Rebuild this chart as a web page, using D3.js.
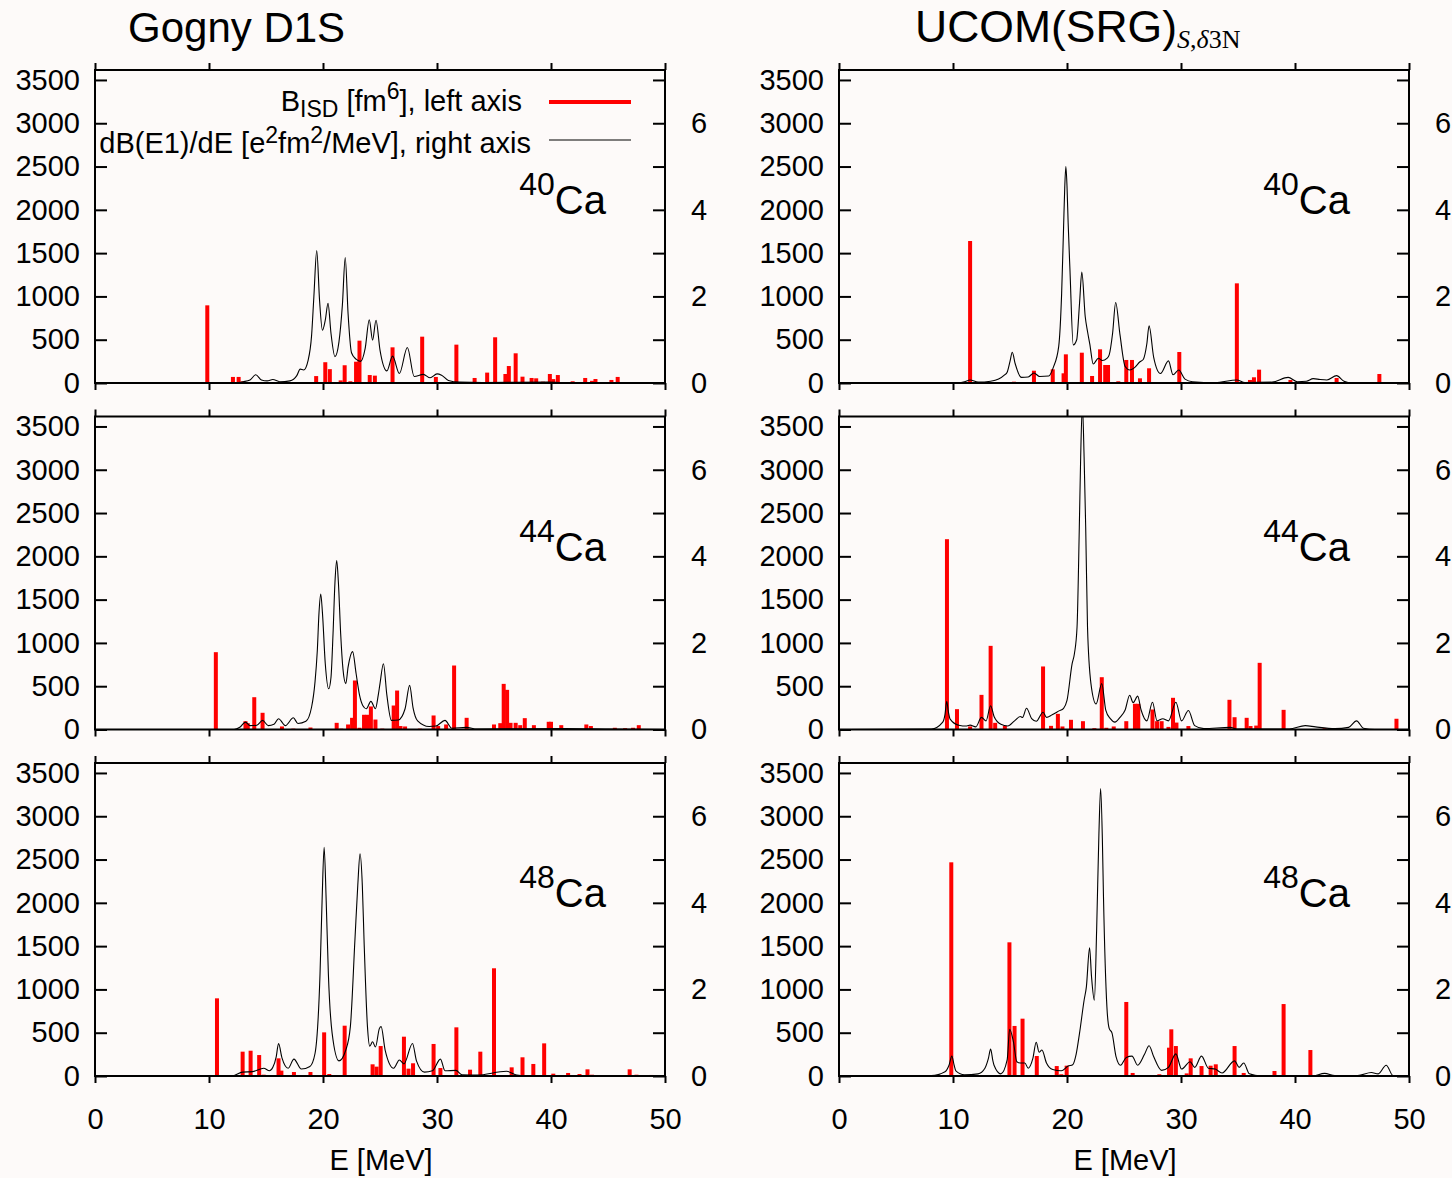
<!DOCTYPE html>
<html>
<head>
<meta charset="utf-8">
<script src="https://cdn.jsdelivr.net/npm/d3@7"></script>
<style>
  body { margin: 0; background: #fdfaf9; }
  svg { display: block; font-family: "Liberation Sans", Arial, sans-serif; }
</style>
</head>
<body>
<div id="chart"></div>
<script>
// ---- data: [E (MeV), B_ISD (fm^6)] bars and [E, dB(E1)/dE] curve points ----
const gognyCa40Bars = [[9.85,897],[12.1,70],[12.6,70],[13.0,20],[14.6,10],[15.0,10],[19.4,80],[20.2,240],[20.6,160],[21.55,30],[21.9,205],[22.4,20],[22.9,246],[23.2,489],[24.1,92],[24.55,85],[25.3,10],[26.1,412],[27.2,10],[28.7,535],[29.9,70],[31.7,443],[33.3,58],[34.4,120],[35.1,528],[36.0,104],[36.3,196],[36.9,343],[37.5,73],[38.3,58],[38.7,54],[39.3,15],[39.9,104],[40.2,45],[40.6,92],[41.9,20],[43.0,58],[43.6,25],[43.9,46],[45.3,35],[45.85,70]];
const gognyCa40Curve = [[0,0],[12,0],[13,0.03],[13.6,0.07],[14.1,0.19],[14.6,0.07],[15.1,0.05],[15.6,0.08],[16.2,0.03],[17.1,0.05],[17.7,0.17],[18.0,0.32],[18.3,0.30],[18.7,0.53],[19.0,1.1],[19.2,2.0],[19.45,3.06],[19.7,1.9],[19.95,1.22],[20.2,1.45],[20.44,1.84],[20.7,1.15],[21.05,0.61],[21.4,0.95],[21.7,1.8],[21.95,2.90],[22.2,1.6],[22.5,0.7],[22.9,0.55],[23.3,0.50],[23.7,0.8],[24.06,1.46],[24.35,0.99],[24.65,1.45],[25.0,0.76],[25.6,0.28],[26.1,0.62],[26.7,0.22],[27.4,0.82],[28.0,0.15],[28.8,0.20],[29.4,0.12],[30.0,0.21],[30.4,0.18],[31.0,0.06],[32,0.02],[34,0.01],[39.7,0.02],[41,0.01],[50,0]];

const ucomCa40Bars = [[11.5,1640],[13.4,10],[15.35,15],[17.1,142],[18.0,10],[18.75,158],[19.7,112],[19.9,331],[20.9,10],[21.3,350],[22.2,81],[22.9,389],[23.35,208],[23.6,208],[24.5,20],[25.2,266],[25.7,266],[26.4,54],[27.2,170],[28.7,10],[29.0,10],[29.85,358],[34.9,1151],[36.05,35],[36.4,66],[36.85,154],[39.6,35],[43.65,58],[47.4,104]];
const ucomCa40Curve = [[0,0],[10.5,0.01],[11.0,0.03],[11.5,0.07],[12.2,0.02],[13.3,0.04],[14.0,0.09],[14.5,0.18],[14.75,0.25],[15.0,0.5],[15.2,0.71],[15.45,0.45],[16.0,0.13],[16.6,0.14],[17.1,0.23],[17.6,0.15],[18.4,0.16],[18.8,0.36],[19.27,0.84],[19.53,2.07],[19.7,3.6],[19.8,4.5],[19.9,5.0],[20.0,4.55],[20.1,3.7],[20.26,2.61],[20.55,0.88],[20.85,1.0],[21.1,1.84],[21.3,2.56],[21.6,1.53],[21.8,1.19],[22.0,0.90],[22.3,0.44],[22.75,0.57],[23.1,0.52],[23.5,0.57],[23.7,0.65],[24.0,1.15],[24.27,1.86],[24.65,1.11],[25.1,0.38],[25.5,0.30],[25.9,0.35],[26.4,0.49],[26.7,0.55],[27.0,0.9],[27.2,1.32],[27.6,0.6],[28.2,0.22],[28.9,0.51],[29.3,0.19],[29.8,0.30],[30.35,0.09],[31.0,0.03],[33,0.01],[34.9,0.07],[35.6,0.01],[38.0,0.02],[39.4,0.13],[40.2,0.03],[41.0,0.04],[41.6,0.10],[42.2,0.08],[42.8,0.07],[43.65,0.17],[44.3,0.04],[45,0],[50,0]];

const gognyCa44Bars = [[10.6,893],[13.2,96],[13.4,73],[13.97,373],[14.7,193],[16.4,35],[17.4,10],[18.9,23],[21.2,77],[21.6,10],[22.2,58],[22.55,135],[22.8,566],[23.2,20],[23.6,170],[23.9,170],[24.2,266],[24.6,115],[25.2,10],[26.2,277],[26.5,450],[26.8,40],[27.2,35],[28.5,10],[29.7,162],[30.1,40],[30.8,58],[31.5,739],[32.6,135],[35.0,58],[35.55,73],[35.85,527],[36.15,458],[36.45,77],[36.9,77],[37.3,50],[37.7,131],[38.5,50],[39.8,89],[40.0,89],[40.9,50],[43.1,58],[43.5,40],[45.6,20],[46.5,15],[47.2,20],[47.7,50]];
const gognyCa44Curve = [[0,0],[12.2,0],[12.7,0.05],[13.2,0.17],[13.6,0.09],[14.2,0.1],[14.7,0.21],[15.2,0.09],[15.7,0.12],[16.1,0.25],[16.7,0.09],[17.4,0.27],[17.8,0.14],[18.5,0.19],[19.0,0.52],[19.3,1.1],[19.5,1.82],[19.65,2.7],[19.8,3.13],[19.95,2.7],[20.2,1.52],[20.5,0.94],[20.7,1.2],[20.88,2.21],[21.05,3.4],[21.2,3.90],[21.35,3.4],[21.55,2.21],[21.75,1.4],[22.0,1.06],[22.2,1.44],[22.6,1.80],[22.9,1.3],[23.2,0.8],[23.5,0.55],[23.8,0.48],[24.2,0.65],[24.6,0.48],[24.85,0.8],[25.0,1.06],[25.3,1.52],[25.6,0.8],[26.0,0.21],[26.6,0.22],[27.2,0.48],[27.6,1.02],[27.9,0.5],[28.3,0.2],[29.3,0.07],[29.9,0.08],[30.7,0.21],[31.3,0.03],[32.6,0.05],[33.5,0.01],[41.3,0.02],[45,0.01],[50,0]];

const ucomCa44Bars = [[9.47,2198],[10.35,235],[11.5,35],[12.5,400],[13.3,966],[13.7,77],[14.55,42],[17.9,728],[18.6,42],[19.2,181],[19.6,35],[20.35,112],[21.4,96],[22.4,15],[23.05,604],[23.45,20],[24.1,35],[25.2,96],[25.96,297],[26.25,297],[27.5,231],[27.9,96],[28.3,96],[28.9,30],[29.3,366],[29.6,80],[30.65,40],[34.25,343],[34.7,142],[35.76,135],[36.1,40],[36.6,45],[36.9,770],[39.0,227],[42.6,15],[48.9,124]];
const ucomCa44Curve = [[0,0],[8.1,0.01],[9.1,0.17],[9.3,0.35],[9.45,0.65],[9.6,0.4],[9.75,0.24],[10.5,0.1],[11.2,0.08],[11.5,0.1],[12.0,0.06],[12.5,0.28],[12.9,0.2],[13.3,0.55],[13.6,0.3],[14.2,0.12],[14.8,0.08],[15.4,0.2],[15.9,0.30],[16.1,0.28],[16.45,0.49],[16.9,0.25],[17.3,0.19],[17.9,0.40],[18.2,0.28],[18.7,0.34],[19.3,0.43],[19.7,0.49],[20.0,0.67],[20.45,1.52],[20.65,1.75],[20.88,2.36],[21.08,4.67],[21.2,6.3],[21.35,7.5],[21.5,6.3],[21.64,4.67],[21.8,2.36],[22.1,1.06],[22.55,0.59],[23.05,1.06],[23.4,0.45],[23.8,0.25],[24.2,0.17],[24.65,0.28],[25.1,0.45],[25.5,0.79],[25.8,0.62],[26.2,0.77],[26.5,0.45],[27.0,0.2],[27.5,0.63],[27.9,0.2],[28.4,0.25],[28.9,0.2],[29.55,0.63],[30.05,0.2],[30.65,0.44],[31.2,0.09],[32.0,0.02],[34.3,0.05],[35,0.01],[39.5,0.01],[40.9,0.09],[41.8,0.06],[43.5,0.02],[44.7,0.05],[45.4,0.2],[46.0,0.03],[47,0],[50,0]];

const gognyCa48Bars = [[10.7,897],[12.95,281],[13.65,292],[14.4,242],[14.8,15],[16.1,204],[16.35,62],[17.45,46],[18.9,46],[20.1,504],[20.55,23],[21.9,581],[24.35,135],[24.7,108],[25.06,346],[27.1,454],[27.5,85],[27.9,147],[29.7,370],[30.3,92],[31.7,562],[32.9,73],[33.8,281],[35.0,1244],[36.55,100],[37.5,216],[38.45,139],[39.4,377],[40.2,27],[41.5,35],[42.5,23],[43.2,77],[43.6,15],[46.9,77],[47.5,15],[48.8,12]];
const gognyCa48Curve = [[0,0],[12,0],[12.95,0.09],[13.8,0.1],[14.8,0.18],[15.3,0.12],[15.6,0.2],[15.9,0.45],[16.1,0.75],[16.4,0.42],[16.95,0.18],[17.45,0.39],[18.1,0.16],[18.85,0.22],[19.3,0.52],[19.74,2.37],[19.92,4.05],[20.1,5.28],[20.28,4.05],[20.47,2.37],[20.8,0.99],[21.4,0.35],[22.0,0.6],[22.4,1.14],[22.8,3.14],[23.05,4.4],[23.25,5.13],[23.45,4.4],[23.6,3.14],[23.9,1.14],[24.1,0.69],[24.35,0.79],[24.6,0.67],[24.95,1.1],[25.1,1.14],[25.45,0.6],[26.2,0.18],[26.7,0.37],[27.1,0.28],[27.85,0.75],[28.2,0.35],[28.9,0.09],[29.6,0.12],[30.3,0.39],[30.7,0.12],[31.65,0.13],[32.2,0.03],[33.5,0.02],[36.1,0.11],[37,0.02],[38,0],[50,0]];

const ucomCa48Bars = [[9.85,2468],[14.95,1544],[15.4,578],[16.1,662],[17.35,231],[19.1,115],[19.5,20],[19.97,119],[22.3,10],[25.2,855],[25.76,35],[28.1,20],[28.95,327],[29.15,539],[29.55,346],[30.5,30],[30.85,204],[31.8,115],[32.6,119],[33.05,135],[34.7,346],[35.5,35],[38.2,58],[39.0,831],[41.35,300],[43.2,8],[45,5]];
const ucomCa48Curve = [[0,0],[8.1,0.01],[9.3,0.1],[9.65,0.25],[9.9,0.46],[10.1,0.25],[10.25,0.12],[11.0,0.03],[12.2,0.05],[12.8,0.18],[13.1,0.4],[13.3,0.62],[13.5,0.35],[13.6,0.25],[14.2,0.05],[14.75,0.37],[14.97,1.08],[15.3,0.79],[15.6,0.33],[15.9,0.3],[16.3,0.3],[16.6,0.18],[17.0,0.4],[17.3,0.78],[17.55,0.55],[17.8,0.6],[18.2,0.3],[18.75,0.15],[19.5,0.12],[20.1,0.23],[20.5,0.26],[20.8,0.5],[21.1,0.99],[21.5,1.75],[21.7,2.06],[21.98,2.96],[22.15,2.3],[22.4,1.75],[22.6,3.37],[22.8,5.6],[22.95,6.64],[23.1,5.5],[23.2,4.14],[23.5,1.6],[23.7,1.1],[23.95,0.99],[24.3,0.45],[24.7,0.25],[25.2,0.43],[25.7,0.46],[26.2,0.25],[26.8,0.5],[27.2,0.7],[27.6,0.45],[28.3,0.13],[28.9,0.2],[29.55,0.51],[30.05,0.16],[30.8,0.33],[31.2,0.2],[31.8,0.46],[32.4,0.18],[33.0,0.16],[33.6,0.07],[34.7,0.35],[35.1,0.2],[35.5,0.3],[36.0,0.05],[37,0],[41.5,0],[42.6,0.06],[43.5,0.01],[45.5,0.01],[46.7,0.08],[47.3,0.05],[48.0,0.25],[48.6,0.01],[50,0]];

// ticks and labels
const energyTicks = [0, 10, 20, 30, 40, 50];
const bTicks = [0, 500, 1000, 1500, 2000, 2500, 3000, 3500];
const strengthTicks = [0, 1, 2, 3, 4, 5, 6, 7];
const strengthLabels = [0, 2, 4, 6];
const massNumbers = ['40', '44', '48'];

// layout
const W = 1452, H = 1178;
const colLeft = [95, 839];
const rowTop = [70, 416.5, 763];
const plotW = 570, plotH = 313;
const yMax = 3615;           // left axis top
const barW = 4;
const fontSize = 29;

const svg = d3.select('#chart').append('svg')
  .attr('width', W)
  .attr('height', H);

svg.append('rect').attr('width', W).attr('height', H).attr('fill', '#fdfaf9');

const panels = [
  {col: 0, row: 0, bars: gognyCa40Bars, curve: gognyCa40Curve},
  {col: 1, row: 0, bars: ucomCa40Bars, curve: ucomCa40Curve},
  {col: 0, row: 1, bars: gognyCa44Bars, curve: gognyCa44Curve},
  {col: 1, row: 1, bars: ucomCa44Bars, curve: ucomCa44Curve},
  {col: 0, row: 2, bars: gognyCa48Bars, curve: gognyCa48Curve},
  {col: 1, row: 2, bars: ucomCa48Bars, curve: ucomCa48Curve}
];

//style axis groups the gnuplot way
function styleAxis(g){
  g.select('.domain').remove();
  g.selectAll('.tick line').attr('stroke', '#000').attr('stroke-width', 2);
  g.selectAll('.tick text').attr('fill', '#000')
    .attr('font-size', fontSize)
    .attr('font-family', '"Liberation Sans", Arial, sans-serif');
}

panels.forEach((p, i) => {
  const left = colLeft[p.col], top = rowTop[p.row];
  const x = d3.scaleLinear().domain([0, 50]).range([left, left + plotW]);
  const y = d3.scaleLinear().domain([0, yMax]).range([top + plotH, top]);
  const y2 = d3.scaleLinear().domain([0, yMax / 500]).range([top + plotH, top]);

  const g = svg.append('g').attr('class', 'panel');

  g.append('clipPath').attr('id', 'clip' + i)
    .append('rect').attr('x', left).attr('y', top).attr('width', plotW).attr('height', plotH);

  //B_ISD bars
  g.append('g').attr('clip-path', `url(#clip${i})`)
    .selectAll('rect')
    .data(p.bars)
    .join('rect')
    .attr('x', d => x(d[0]) - barW / 2)
    .attr('y', d => y(d[1]))
    .attr('width', barW)
    .attr('height', d => y(0) - y(d[1]))
    .attr('fill', '#ff0000');

  //strength function
  const line = d3.line()
    .x(d => x(d[0]))
    .y(d => y2(d[1]))
    .curve(d3.curveMonotoneX);
  g.append('path')
    .datum(p.curve)
    .attr('clip-path', `url(#clip${i})`)
    .attr('d', line)
    .attr('fill', 'none')
    .attr('stroke', '#000')
    .attr('stroke-width', 1.1);

  //axes
  g.append('g').attr('transform', `translate(${left},0)`)
    .call(d3.axisLeft(y).tickValues(bTicks).tickSize(-12).tickPadding(15).tickFormat(d3.format('d')))
    .call(styleAxis);

  g.append('g').attr('transform', `translate(${left + plotW},0)`)
    .call(d3.axisRight(y2).tickValues(strengthTicks).tickSize(-12).tickPadding(26)
      .tickFormat(d => strengthLabels.includes(d) ? d : ''))
    .call(styleAxis);

  g.append('g').attr('transform', `translate(0,${top})`)
    .call(d3.axisTop(x).tickValues(energyTicks).tickSize(7).tickFormat(''))
    .call(styleAxis);

  g.append('g').attr('transform', `translate(0,${top + plotH})`)
    .call(d3.axisBottom(x).tickValues(energyTicks).tickSize(7).tickPadding(25)
      .tickFormat(p.row === 2 ? d3.format('d') : ''))
    .call(styleAxis);

  //frame
  g.append('rect')
    .attr('x', left).attr('y', top)
    .attr('width', plotW).attr('height', plotH)
    .attr('fill', 'none').attr('stroke', '#000').attr('stroke-width', 2);

  //nucleus label
  const lab = g.append('text')
    .attr('x', left + 511)
    .attr('y', top + 144)
    .attr('text-anchor', 'end')
    .attr('fill', '#000');
  lab.append('tspan').attr('font-size', 32).attr('dy', -19).text(massNumbers[p.row]);
  lab.append('tspan').attr('font-size', 40).attr('dy', 19).text('Ca');

  if (p.row === 2) {
    g.append('text')
      .attr('x', left + plotW / 2 + 1)
      .attr('y', top + plotH + 94)
      .attr('text-anchor', 'middle')
      .attr('font-size', fontSize)
      .text('E [MeV]');
  }
});

//column titles
svg.append('text').attr('x', 128).attr('y', 42)
  .attr('font-size', 42).text('Gogny D1S');
const t2 = svg.append('text').attr('x', 915).attr('y', 42).attr('font-size', 44.5);
t2.append('tspan').text('UCOM(SRG)');
const sub = t2.append('tspan').attr('dy', 6).attr('font-size', 26)
  .attr('font-family', '"Liberation Serif", "DejaVu Serif", serif');
sub.append('tspan').attr('font-style', 'italic').text('S');
sub.append('tspan').text(',');
sub.append('tspan').attr('font-style', 'italic').text('δ');
sub.append('tspan').text('3N');

//legend (top left panel)
const legendSize = 29;
const leg1 = svg.append('text').attr('x', 522).attr('y', 111)
  .attr('text-anchor', 'end').attr('font-size', legendSize);
leg1.append('tspan').text('B');
leg1.append('tspan').attr('font-size', 23).attr('dy', 6).text('ISD');
leg1.append('tspan').attr('dy', -6).text(' [fm');
leg1.append('tspan').attr('font-size', 23).attr('dy', -12).text('6');
leg1.append('tspan').attr('dy', 12).text('], left axis');

const leg2 = svg.append('text').attr('x', 531).attr('y', 153)
  .attr('text-anchor', 'end').attr('font-size', legendSize);
leg2.append('tspan').text('dB(E1)/dE [e');
leg2.append('tspan').attr('font-size', 23).attr('dy', -10).text('2');
leg2.append('tspan').attr('dy', 10).text('fm');
leg2.append('tspan').attr('font-size', 23).attr('dy', -10).text('2');
leg2.append('tspan').attr('dy', 10).text('/MeV], right axis');

svg.append('line').attr('x1', 549).attr('x2', 631).attr('y1', 102).attr('y2', 102)
  .attr('stroke', '#ff0000').attr('stroke-width', 4);
svg.append('line').attr('x1', 549).attr('x2', 631).attr('y1', 140).attr('y2', 140)
  .attr('stroke', '#000').attr('stroke-width', 1.1);
</script>
</body>
</html>
